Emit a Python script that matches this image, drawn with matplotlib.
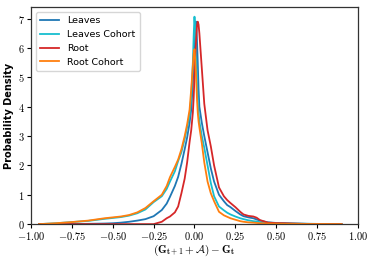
import matplotlib
matplotlib.use("Agg")
import matplotlib.pyplot as plt
from matplotlib.ticker import FuncFormatter, FixedLocator

plt.rcParams['mathtext.fontset'] = 'cm'

x = [-0.95, -0.85, -0.75, -0.65, -0.55, -0.5, -0.45, -0.4, -0.35, -0.3, -0.25, -0.2,
     -0.17, -0.15, -0.12, -0.1, -0.08, -0.06, -0.045, -0.03, -0.02, -0.01, -0.005,
     0.0, 0.005, 0.01, 0.015, 0.02, 0.025, 0.03, 0.045, 0.06, 0.08, 0.1, 0.12, 0.15,
     0.18, 0.2, 0.22, 0.25, 0.28, 0.3, 0.33, 0.36, 0.38, 0.4, 0.45, 0.5, 0.55, 0.6,
     0.7, 0.8, 0.9]

leaves = [0.0, 0.003, 0.005, 0.01, 0.02, 0.03, 0.05, 0.08, 0.12, 0.17, 0.27, 0.48,
          0.7, 0.93, 1.3, 1.61, 2.05, 2.55, 2.95, 3.45, 3.9, 4.8, 5.6,
          6.4, 6.9, 6.9, 6.3, 5.5, 4.6, 4.0, 3.45, 3.0, 2.45, 1.9, 1.45, 1.0,
          0.78, 0.65, 0.58, 0.45, 0.33, 0.27, 0.23, 0.2, 0.16, 0.12, 0.06, 0.04, 0.03, 0.02,
          0.01, 0.005, 0.0]

leaves_cohort = [0.0, 0.03, 0.07, 0.11, 0.18, 0.21, 0.24, 0.29, 0.37, 0.5, 0.75, 0.95,
                 1.2, 1.45, 1.8, 2.15, 2.45, 2.9, 3.3, 3.7, 4.3, 5.5, 6.4,
                 7.07, 6.6, 5.8, 4.9, 4.2, 3.8, 3.5, 3.0, 2.6, 2.0, 1.4, 0.95, 0.6,
                 0.47, 0.39, 0.33, 0.26, 0.2, 0.17, 0.13, 0.1, 0.09, 0.07, 0.05, 0.035, 0.025, 0.02,
                 0.01, 0.005, 0.0]

root = [0.0, 0.0, 0.0, 0.0, 0.0, 0.0, 0.0, 0.0, 0.0, 0.0, 0.0, 0.08,
        0.2, 0.26, 0.4, 0.6, 1.05, 1.55, 2.1, 2.8, 3.2, 3.8, 4.3,
        5.0, 5.7, 6.3, 6.75, 6.9, 6.8, 6.5, 5.3, 4.1, 3.2, 2.65, 2.0, 1.25,
        0.95, 0.82, 0.72, 0.58, 0.42, 0.33, 0.28, 0.26, 0.22, 0.14, 0.05, 0.035, 0.03, 0.02,
        0.005, 0.002, 0.0]

root_cohort = [0.0, 0.03, 0.07, 0.12, 0.2, 0.23, 0.26, 0.31, 0.4, 0.55, 0.78, 1.0,
               1.3, 1.6, 1.95, 2.2, 2.55, 3.0, 3.4, 3.9, 4.6, 5.4, 5.8,
               5.96, 5.6, 5.0, 4.3, 3.8, 3.5, 3.3, 2.75, 2.1, 1.45, 1.05, 0.78, 0.42,
               0.3, 0.25, 0.2, 0.15, 0.1, 0.08, 0.06, 0.05, 0.04, 0.03, 0.02, 0.015, 0.01, 0.01,
               0.005, 0.003, 0.0]

series = [("Leaves", leaves, "#1f77b4"),
          ("Leaves Cohort", leaves_cohort, "#17becf"),
          ("Root", root, "#d62728"),
          ("Root Cohort", root_cohort, "#ff7f0e")]

xticks = [-1.0, -0.75, -0.5, -0.25, 0.0, 0.25, 0.5, 0.75, 1.0]
yticks = [0, 1, 2, 3, 4, 5, 6, 7]

fig = plt.figure(figsize=(3.74, 2.6), dpi=100)
ax = fig.add_axes([0.083, 0.138, 0.874, 0.835])

for name, vals, col in series:
    ax.plot(x, vals, color=col, lw=1.3, label=name)

ax.set_xlim(-1.0, 1.0)
ax.set_ylim(0, 7.4)
ax.xaxis.set_major_locator(FixedLocator(xticks))
ax.yaxis.set_major_locator(FixedLocator(yticks))
ax.xaxis.set_major_formatter(FuncFormatter(lambda v, p: r'$%.2f$' % v))
ax.yaxis.set_major_formatter(FuncFormatter(lambda v, p: r'$%d$' % v))
ax.tick_params(labelsize=7.5, length=3, width=0.8, pad=1.5)
for s in ax.spines.values():
    s.set_linewidth(0.9)
    s.set_color('#333333')

ax.set_ylabel("Probability Density", fontsize=7, fontweight='bold', labelpad=3)
ax.set_xlabel(r'$(\mathbf{G_{t+1}} + \mathcal{A}) - \mathbf{G_t}$', fontsize=8, labelpad=0)

leg = ax.legend(loc='upper left', fontsize=6.8, frameon=True, handlelength=2.0,
                borderpad=0.5, labelspacing=0.5, fancybox=True)
leg.get_frame().set_edgecolor('#cccccc')

fig.savefig("out.png", dpi=100)
